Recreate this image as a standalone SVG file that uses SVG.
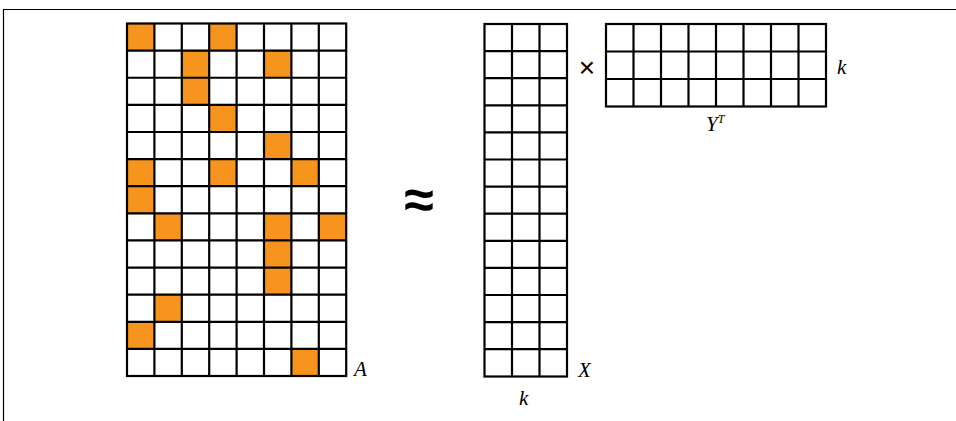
<svg xmlns="http://www.w3.org/2000/svg" width="956" height="421" viewBox="0 0 956 421">
<defs>
<style>
.g{fill:none;stroke:#000;stroke-width:2.2}
.o{fill:#F7941D}
.lbl{font-family:"Liberation Serif","DejaVu Serif",serif;font-style:italic;font-size:21px;fill:#000}
.sym{font-family:"Liberation Sans","DejaVu Sans",sans-serif;fill:#000}
</style>
</defs>
<rect width="956" height="421" fill="#fff"/>
<path d="M3.5 421V9.5H956" fill="none" stroke="#000" stroke-width="1.2"/>
<g id="matrixA">
<g class="o">
<rect x="127" y="23.5" width="27.4" height="27.12"/>
<rect x="209.2" y="23.5" width="27.4" height="27.12"/>
<rect x="181.8" y="50.62" width="27.4" height="27.12"/>
<rect x="264" y="50.62" width="27.4" height="27.12"/>
<rect x="181.8" y="77.74" width="27.4" height="27.12"/>
<rect x="209.2" y="104.86" width="27.4" height="27.12"/>
<rect x="264" y="131.98" width="27.4" height="27.12"/>
<rect x="127" y="159.1" width="27.4" height="27.12"/>
<rect x="209.2" y="159.1" width="27.4" height="27.12"/>
<rect x="291.4" y="159.1" width="27.4" height="27.12"/>
<rect x="127" y="186.22" width="27.4" height="27.12"/>
<rect x="154.4" y="213.34" width="27.4" height="27.12"/>
<rect x="264" y="213.34" width="27.4" height="27.12"/>
<rect x="318.8" y="213.34" width="27.4" height="27.12"/>
<rect x="264" y="240.46" width="27.4" height="27.12"/>
<rect x="264" y="267.58" width="27.4" height="27.12"/>
<rect x="154.4" y="294.7" width="27.4" height="27.12"/>
<rect x="127" y="321.82" width="27.4" height="27.12"/>
<rect x="291.4" y="348.94" width="27.4" height="27.12"/>
</g>
<path class="g" d="M154.4 23.5V376M181.8 23.5V376M209.2 23.5V376M236.6 23.5V376M264 23.5V376M291.4 23.5V376M318.8 23.5V376
M127 50.62H346.2M127 77.74H346.2M127 104.86H346.2M127 131.98H346.2M127 159.1H346.2M127 186.22H346.2M127 213.34H346.2M127 240.46H346.2M127 267.58H346.2M127 294.7H346.2M127 321.82H346.2M127 348.94H346.2"/>
<rect class="g" x="127" y="23.5" width="219.2" height="352.5"/>
<text class="lbl" x="354" y="376">A</text>
</g>
<g id="approx">
<text class="sym" x="419" y="218" font-size="54" font-weight="bold" text-anchor="middle">≈</text>
</g>
<g id="matrixX">
<path class="g" d="M512 24V376.5M539.5 24V376.5
M484.5 51.1H567M484.5 78.2H567M484.5 105.3H567M484.5 132.4H567M484.5 159.5H567M484.5 186.6H567M484.5 213.7H567M484.5 240.8H567M484.5 267.9H567M484.5 295H567M484.5 322.1H567M484.5 349.2H567"/>
<rect class="g" x="484.5" y="24" width="82.5" height="352.5"/>
<text class="lbl" x="578" y="376.5">X</text>
<text class="lbl" x="519" y="405">k</text>
</g>
<g id="times">
<text class="sym" x="587" y="77" font-size="28" text-anchor="middle">×</text>
</g>
<g id="matrixYT">
<path class="g" d="M633.5 24V106.5M661 24V106.5M688.5 24V106.5M716 24V106.5M743.5 24V106.5M771 24V106.5M798.5 24V106.5
M606 51.5H826M606 79H826"/>
<rect class="g" x="606" y="24" width="220" height="82.5"/>
<text class="lbl" x="837" y="74">k</text>
<text class="lbl" x="706" y="131">Y<tspan font-size="12" dy="-8">T</tspan></text>
</g>
</svg>
